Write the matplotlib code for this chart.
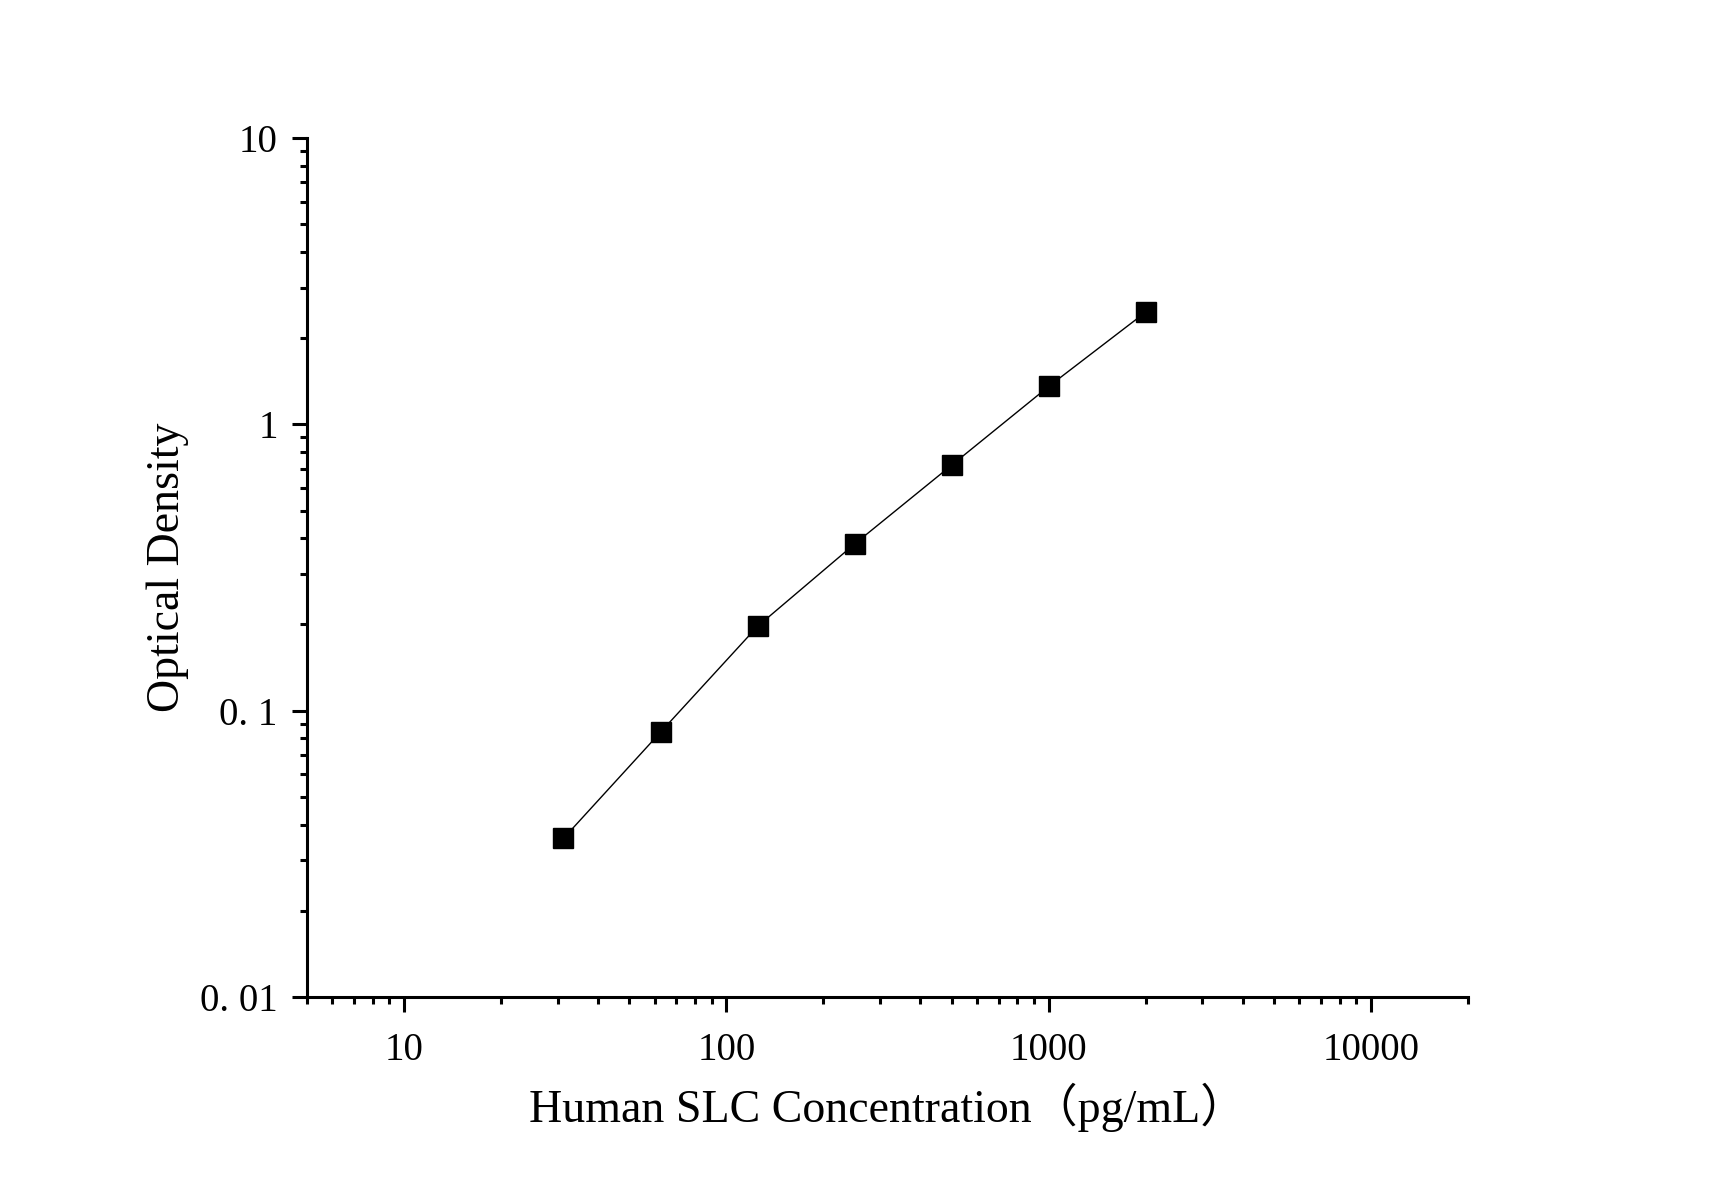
import numpy as np
import matplotlib
matplotlib.use("Agg")
import matplotlib.pyplot as plt
from matplotlib.ticker import LogLocator, NullFormatter, FixedLocator, FixedFormatter

plt.rcParams['font.family'] = ['Liberation Serif', 'Noto Sans CJK SC', 'DejaVu Sans']

# standard curve data
conc = [31.25, 62.5, 125, 250, 500, 1000, 2000]
od = [0.0358, 0.0841, 0.197, 0.382, 0.720, 1.356, 2.466]

x_ticks = [10, 100, 1000, 10000]
x_tick_labels = ["10", "100", "1000", "10000"]
y_ticks = [0.01, 0.1, 1, 10]
y_tick_labels = ["0. 01", "0. 1", "1", "10"]

fig = plt.figure(figsize=(17.1, 11.95), dpi=100)
ax = fig.add_axes([0.1795, 0.1657, 0.8585 - 0.1795, 0.8845 - 0.1657])

ax.plot(conc, od, color='k', linewidth=1.0, marker='s', markersize=13.7,
        markerfacecolor='k', markeredgecolor='k')

ax.set_xscale('log')
ax.set_yscale('log')
ax.set_xlim(5, 20000)
ax.set_ylim(0.01, 10)

ax.xaxis.set_major_locator(FixedLocator(x_ticks))
ax.xaxis.set_major_formatter(FixedFormatter(x_tick_labels))
ax.yaxis.set_major_locator(FixedLocator(y_ticks))
ax.yaxis.set_major_formatter(FixedFormatter(y_tick_labels))
ax.xaxis.set_minor_locator(LogLocator(base=10, subs=np.arange(2, 10), numticks=20))
ax.yaxis.set_minor_locator(LogLocator(base=10, subs=np.arange(2, 10), numticks=20))
ax.xaxis.set_minor_formatter(NullFormatter())
ax.yaxis.set_minor_formatter(NullFormatter())

for s in ['top', 'right']:
    ax.spines[s].set_visible(False)
for s in ['left', 'bottom']:
    ax.spines[s].set_linewidth(2.2)

ax.tick_params(which='major', direction='out', length=11, width=2.2,
               labelsize=28, pad=10)
ax.tick_params(axis='x', which='major', pad=14)
ax.tick_params(which='minor', direction='out', length=5, width=2.2)

ax.set_xlabel("Human SLC Concentration（pg/mL）", fontsize=33, labelpad=10)
ax.set_ylabel("Optical Density", fontsize=33, labelpad=8)

fig.savefig("out.png", dpi=100)
